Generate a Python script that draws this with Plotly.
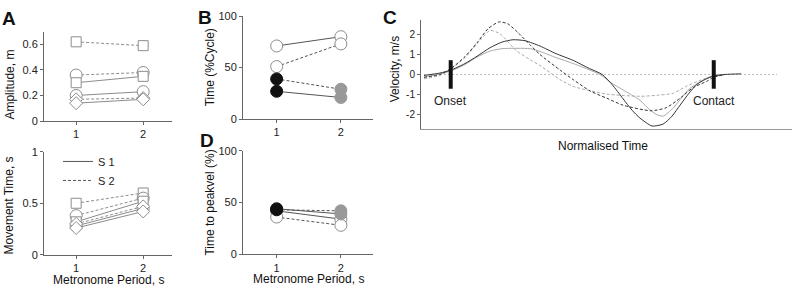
import plotly.graph_objects as go

W, H = 794, 291
FONT = "Liberation Sans, Arial, Helvetica, sans-serif"

# ---------------- data ----------------
periods = [1, 2]

# Panel A (top): amplitude, m
amp_sq_s2 = [0.62, 0.59]
amp_ci_s2 = [0.36, 0.38]
amp_sq_s1 = [0.30, 0.35]
amp_ci_s1 = [0.20, 0.23]
amp_di_s2 = [0.17, 0.18]
amp_di_s1 = [0.14, 0.17]

# Panel A (bottom): movement time, s
mt_sq_s2 = [0.50, 0.60]
mt_ci_s2 = [0.38, 0.55]
mt_sq_s1 = [0.32, 0.52]
mt_di_s2 = [0.30, 0.47]
mt_ci_s1 = [0.28, 0.45]
mt_di_s1 = [0.26, 0.42]

# Panel B: time (%cycle)
cyc_open_s1 = [71, 80]
cyc_open_s2 = [51, 73]
cyc_fill_s2 = [39, 29]
cyc_fill_s1 = [27, 21]

# Panel D: time to peak velocity (%)
pk_open_s1 = [42, 34]
pk_open_s2 = [36, 28]
pk_fill_s2 = [43, 42]
pk_fill_s1 = [44, 39]

# Panel C: velocity profiles (normalised time 0..100)
t_s1_dark = [0, 5.0, 8.5, 12.9, 16.7, 20.8, 24.5, 28.0, 31.8, 36.5, 41.5, 46.9, 51.6, 56.0,
             59.1, 62.6, 65.4, 67.9, 71.7, 75.2, 78.0, 80.5, 83.3, 85.8, 88.4, 90.9, 94.7, 99.7]
v_s1_dark = [-0.05, 0.07, 0.22, 0.55, 0.92, 1.35, 1.63, 1.75, 1.70, 1.43, 1.05, 0.71, 0.33, 0.0,
             -0.5, -1.23, -1.8, -2.2, -2.6, -2.5, -2.1, -1.55, -0.95, -0.5, -0.25, -0.08, 0.0, 0.03]

t_s1_light = [0, 5.0, 8.5, 12.9, 16.7, 20.8, 24.5, 33.3, 36.5, 41.5, 46.9, 55.3, 59.1, 62.6,
              67.9, 71.1, 73.3, 75.2, 78.3, 81.1, 83.6, 89.0, 90.9, 93.1]
v_s1_light = [-0.12, 0.02, 0.18, 0.5, 0.88, 1.18, 1.3, 1.3, 1.16, 0.85, 0.55, 0.0, -0.45, -0.78,
              -1.3, -1.8, -2.03, -2.1, -1.7, -1.15, -0.7, -0.18, -0.08, -0.02]

t_s2_dark = [0, 5.0, 8.5, 12.9, 16.7, 20.1, 23.6, 26.4, 29.6, 33.3, 36.5, 42.8, 46.9, 52.2,
             57.5, 62.6, 71.4, 76.1, 80.5, 84.6, 89.0, 90.9, 94.3]
v_s2_dark = [-0.15, 0.0, 0.3, 0.9, 1.6, 2.3, 2.65, 2.55, 2.1, 1.5, 1.0, 0.22, -0.26, -0.83,
             -1.2, -1.55, -1.83, -1.68, -1.2, -0.66, -0.34, -0.15, -0.02]

t_s2_light = [0, 5.0, 8.5, 12.9, 16.7, 20.8, 23.9, 29.1, 33.3, 36.5, 42.8, 46.9, 57.5, 67.9,
              73.3, 78.3, 82.4, 86.8, 90.9, 94.3]
v_s2_light = [-0.22, -0.05, 0.28, 0.85, 1.55, 2.22, 2.05, 1.19, 0.75, 0.45, -0.26, -0.6, -0.99, -1.1,
              -1.05, -0.95, -0.6, -0.3, -0.1, -0.02]

zero_t = [0, 111]
zero_v = [0, 0]
event_t = [8.4, 91.1]
event_names = ["Onset", "Contact"]
event_bar = [-0.72, 0.72]

# ---------------- figure ----------------
fig = go.Figure()

def px_x(p):
    return p / W

def px_y(p):
    return 1 - p / H

GREY_MK = "#8c8c8c"
GREY_LN = "#8c8c8c"
DARK_LN = "#555555"
DOT = "3px,2px"


def pair(xa, ya, y, symbol, size, dash, lc, fill, edge):
    fig.add_trace(go.Scatter(
        x=periods, y=y, xaxis=xa, yaxis=ya, mode="lines+markers",
        line=dict(color=lc, width=1, dash=dash),
        marker=dict(symbol=symbol, size=size, color=fill, line=dict(color=edge, width=1)),
        showlegend=False, hoverinfo="skip"))

# Panel A top
pair("x", "y", amp_sq_s2, "square", 10, DOT, GREY_LN, "white", GREY_MK)
pair("x", "y", amp_ci_s2, "circle", 12, DOT, GREY_LN, "white", GREY_MK)
pair("x", "y", amp_sq_s1, "square", 10, "solid", GREY_LN, "white", GREY_MK)
pair("x", "y", amp_ci_s1, "circle", 12, "solid", GREY_LN, "white", GREY_MK)
pair("x", "y", amp_di_s2, "diamond", 10, DOT, GREY_LN, "white", GREY_MK)
pair("x", "y", amp_di_s1, "diamond", 10, "solid", GREY_LN, "white", GREY_MK)

# Panel A bottom
pair("x2", "y2", mt_sq_s2, "square", 10, DOT, GREY_LN, "white", GREY_MK)
pair("x2", "y2", mt_ci_s2, "circle", 12, DOT, GREY_LN, "white", GREY_MK)
pair("x2", "y2", mt_sq_s1, "square", 10, "solid", GREY_LN, "white", GREY_MK)
pair("x2", "y2", mt_ci_s1, "circle", 12, "solid", GREY_LN, "white", GREY_MK)
pair("x2", "y2", mt_di_s2, "diamond", 10, DOT, GREY_LN, "white", GREY_MK)
pair("x2", "y2", mt_di_s1, "diamond", 10, "solid", GREY_LN, "white", GREY_MK)

# legend-only entries
fig.add_trace(go.Scatter(x=[None], y=[None], mode="lines", name="S 1",
                         line=dict(color=DARK_LN, width=1), xaxis="x2", yaxis="y2"))
fig.add_trace(go.Scatter(x=[None], y=[None], mode="lines", name="S 2",
                         line=dict(color=DARK_LN, width=1, dash=DOT), xaxis="x2", yaxis="y2"))

# Panel B
fill_cols = ["#111111", "#999999"]
pair("x3", "y3", cyc_open_s1, "circle", 12, "solid", DARK_LN, "white", GREY_MK)
pair("x3", "y3", cyc_open_s2, "circle", 12, DOT, DARK_LN, "white", GREY_MK)
pair("x3", "y3", cyc_fill_s2, "circle", 12, DOT, DARK_LN, fill_cols, fill_cols)
pair("x3", "y3", cyc_fill_s1, "circle", 12, "solid", DARK_LN, fill_cols, fill_cols)

# Panel D
pair("x4", "y4", pk_open_s1, "circle", 12, "solid", DARK_LN, "white", GREY_MK)
pair("x4", "y4", pk_open_s2, "circle", 12, DOT, DARK_LN, "white", GREY_MK)
pair("x4", "y4", pk_fill_s2, "circle", 12, DOT, DARK_LN, fill_cols, fill_cols)
pair("x4", "y4", pk_fill_s1, "circle", 12, "solid", DARK_LN, fill_cols, fill_cols)

# Panel C
fig.add_trace(go.Scatter(x=zero_t, y=zero_v, xaxis="x5", yaxis="y5", mode="lines",
                         line=dict(color="#bbbbbb", width=1, dash="2px,2px"),
                         showlegend=False, hoverinfo="skip"))
for tt, vv, col, dash in [(t_s2_light, v_s2_light, "#aaaaaa", "3px,2px"),
                          (t_s1_light, v_s1_light, "#aaaaaa", "solid"),
                          (t_s2_dark, v_s2_dark, "#333333", "3px,2px"),
                          (t_s1_dark, v_s1_dark, "#333333", "solid")]:
    fig.add_trace(go.Scatter(x=tt, y=vv, xaxis="x5", yaxis="y5", mode="lines",
                             line=dict(color=col, width=1, dash=dash, shape="spline", smoothing=0.6),
                             showlegend=False, hoverinfo="skip"))
for et, en in zip(event_t, event_names):
    fig.add_trace(go.Scatter(x=[et, et], y=event_bar, xaxis="x5", yaxis="y5", mode="lines",
                             line=dict(color="#111111", width=4),
                             showlegend=False, hoverinfo="skip"))
    fig.add_annotation(x=et, y=-1.35, xref="x5", yref="y5", text=en, showarrow=False,
                       font=dict(family=FONT, size=12, color="#222"))

# ---------------- axes ----------------
AX = "#666666"
TF = dict(family=FONT, size=11, color="#222")


def xax(dom, rng, anchor, ticks=True, lc=AX):
    return dict(domain=dom, range=rng, anchor=anchor, showline=True, linecolor=lc, linewidth=1,
                showgrid=False, zeroline=False,
                tickvals=[1, 2] if ticks else [], ticktext=["1", "2"] if ticks else [],
                ticks="outside" if ticks else "", ticklen=3, tickcolor=AX, tickfont=TF,
                fixedrange=True)


def yax(dom, rng, vals, txt, anchor, size=11):
    return dict(domain=dom, range=rng, showline=True, linecolor=AX, linewidth=1,
                showgrid=False, zeroline=False, tickvals=vals, ticktext=txt,
                ticks="outside", ticklen=3, tickcolor=AX,
                tickfont=dict(family=FONT, size=size, color="#222"), anchor=anchor,
                fixedrange=True)

xA = [px_x(44), px_x(172)]
xB = [px_x(243), px_x(373)]
xC = [px_x(421), px_x(792)]

fig.update_layout(
    width=W, height=H, margin=dict(l=0, r=0, t=0, b=0),
    paper_bgcolor="white", plot_bgcolor="white",
    font=dict(family=FONT, size=11, color="#222"),
    xaxis=xax(xA, [0.52, 2.43], "y"),
    yaxis=yax([px_y(120), px_y(26.7)], [0, 0.7], [0, 0.2, 0.4, 0.6], ["0", "0.2", "0.4", "0.6"], "x"),
    xaxis2=xax(xA, [0.52, 2.43], "y2"),
    yaxis2=yax([px_y(259.5), px_y(152)], [0, 1], [0, 0.5, 1], ["0", "0.5", "1"], "x2"),
    xaxis3=xax(xB, [0.476, 2.5], "y3"),
    yaxis3=yax([px_y(118), px_y(10.5)], [0, 100], [0, 50, 100], ["0", "50", "100"], "x3"),
    xaxis4=xax(xB, [0.476, 2.5], "y4"),
    yaxis4=yax([px_y(259), px_y(151)], [0, 100], [0, 50, 100], ["0", "50", "100"], "x4"),
    xaxis5=xax(xC, [-0.94, 115.7], "y5", ticks=False, lc="#999999"),
    yaxis5=yax([px_y(128.3), px_y(14.5)], [-2.75, 2.75], [-2, -1, 0, 1, 2],
               ["-2", "-1", "0", "1", "2"], "x5", size=10),
    legend=dict(x=px_x(58), y=px_y(147), xanchor="left", yanchor="top",
                bgcolor="rgba(0,0,0,0)", font=dict(family=FONT, size=11, color="#222"),
                itemwidth=30, tracegroupgap=0),
)

# panel letters and axis titles
def note(x, y, text, size=12, angle=0, bold=False):
    fig.add_annotation(x=px_x(x), y=px_y(y), xref="paper", yref="paper",
                       text=(f"<b>{text}</b>" if bold else text),
                       showarrow=False, textangle=angle,
                       font=dict(family=FONT, size=size, color="#111"),
                       xanchor="center", yanchor="middle")

note(9, 13, "A", 19, bold=True)
note(205, 12, "B", 19, bold=True)
note(390, 12, "C", 19, bold=True)
note(207, 140, "D", 19, bold=True)

note(10, 82, "Amplitude, m", 12, -90)
note(9, 208, "Movement Time, s", 12, -90)
note(108, 285.5, "Metronome Period, s", 12)
note(210, 64, "Time (%Cycle)", 12, -90)
note(210, 205, "Time to peakvel (%)", 12, -90)
note(308, 285, "Metronome Period, s", 12)
note(395, 66, "Velocity, m/s", 12, -90)
note(603, 146, "Normalised Time", 12)

fig.write_html("out.html", config={"displayModeBar": False},
               post_script="document.body.style.margin='0px';document.body.style.overflow='hidden';")
